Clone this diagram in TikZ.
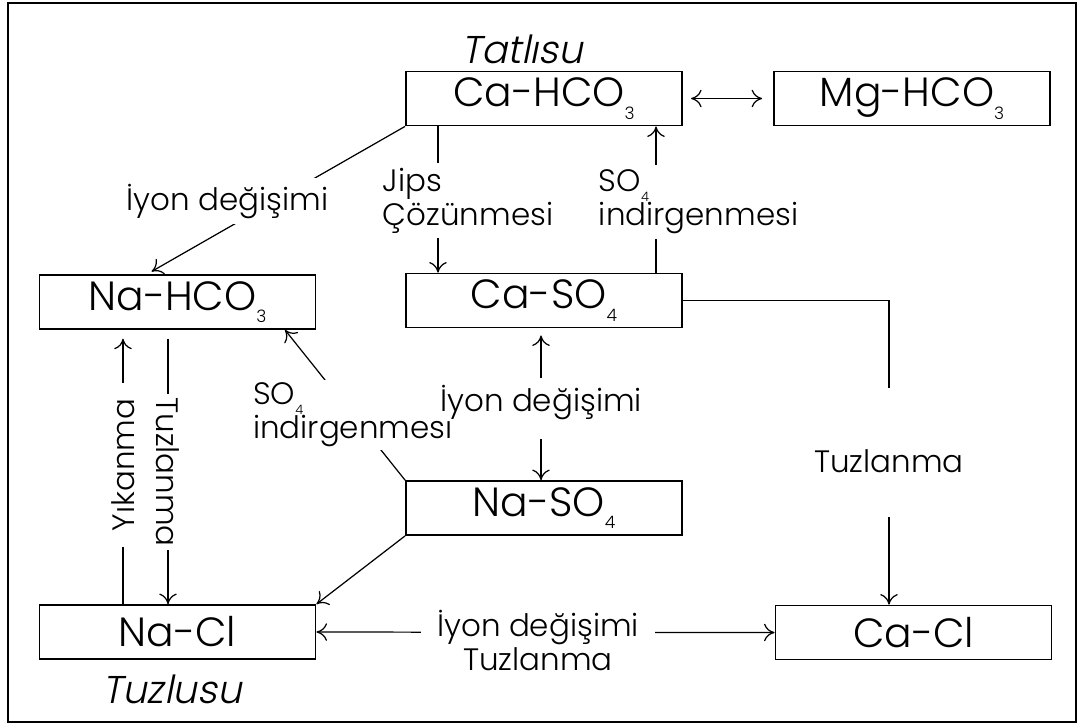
\documentclass[tikz,border=0pt]{standalone}
\usepackage{fontspec}
\setmainfont{Poppins Light}[AutoFakeSlant]
\usetikzlibrary{arrows.meta}
\newcommand{\chemsub}[1]{\raisebox{-0.3em}{\scalebox{0.42}{#1}}}
\newcommand{\etiketfont}{\fontsize{8.8}{9.4}\selectfont\lineskiplimit=-20pt\relax}

\begin{document}
\begin{tikzpicture}[x=0.01cm, y=-0.01cm, >={To[length=3pt,width=5pt]},
    kutu/.style={draw, line width=0.5pt, minimum width=2.76cm, minimum height=0.54cm, inner sep=0pt, font=\fontsize{11.6}{14}\selectfont},
    etiket/.style={fill=white, inner sep=1.5pt, font=\etiketfont},
    su/.style={font=\fontsize{11}{13}\selectfont\itshape},
    ok/.style={line width=0.35pt}]
        \useasboundingbox (0,0) rectangle (1080,726);
        \draw[line width=0.7pt] (8,3) rectangle (1076,722);

        \node[kutu] (CaHCO3) at (544,98.5) {Ca-HCO\chemsub{3}};
        \node[kutu] (MgHCO3) at (912,98.5) {Mg-HCO\chemsub{3}};
        \node[kutu] (NaHCO3) at (177.5,302) {Na-HCO\chemsub{3}};
        \node[kutu] (CaSO4) at (544,300.5) {Ca-SO\chemsub{4}};
        \node[kutu] (NaSO4) at (544,508) {Na-SO\chemsub{4}};
        \node[kutu] (NaCl) at (177.5,632) {Na-Cl};
        \node[kutu] (CaCl) at (913.5,632.5) {Ca-Cl};

        \node[su, anchor=base] (tatli) at (522,63) {Tatlısu};
        \node[su, anchor=base] (tuzlu) at (172,703) {Tuzlusu};

        \coordinate (ax) at (147,0);
        \coordinate (jx) at (438,0);
        \coordinate (sx) at (656,0);
        \coordinate (bx) at (285,0);
        \coordinate (yx) at (123,0);
        \coordinate (tx) at (168,0);

        \draw[ok,<->,shorten <=2.3pt,shorten >=3.1pt] (CaHCO3) -- (MgHCO3);
        \draw[ok,->,shorten >=1.5pt] (CaHCO3.south west) -- (NaHCO3.north -| ax);
        \node[etiket, anchor=base] (ion1) at (227.5,210) {İyon değişimi};
        \draw[ok,->] (CaHCO3.south -| jx) -- (CaSO4.north -| jx);
        \node[etiket, align=left, anchor=base west] (jips) at (377,225) {Jips\\Çözünmesi};
        \draw[ok,->] (CaSO4.north -| sx) -- (CaHCO3.south -| sx);
        \node[etiket, align=left, anchor=base west] (so4a) at (593,225) {SO\chemsub{4}\\indirgenmesi};

        \node[etiket, fill=none, minimum height=1.1cm] (tuz) at (889,461) {Tuzlanma};
        \draw[ok,shorten >=5pt] (CaSO4.east) -| (tuz.north);
        \draw[ok,->] (tuz.south) -- (CaCl.north -| tuz);

        \draw[ok,->] (NaSO4.north west) -- (NaHCO3.south -| bx);
        \node[etiket, align=left, anchor=base west, inner sep=1pt] (so4b) at (249,438) {SO\chemsub{4}\\indirgenmesi};
        \draw[ok,->] (NaSO4.south west) -- (NaCl.north east);

        \node[etiket, anchor=base, inner sep=0pt] (ion2) at (541,411) {İyon değişimi};
        \draw[ok,->,shorten <=1.7pt,shorten >=2pt] (ion2.north) -- (CaSO4.south -| ion2);
        \draw[ok,->,shorten <=5.5pt] (ion2.south) -- (NaSO4.north -| ion2);

        \draw[ok,->,shorten >=2.5pt] (NaCl.north -| yx) -- (NaHCO3.south -| yx);
        \node[etiket, rotate=90, inner xsep=4.5pt] (yik) at (123,465) {Yıkanma};
        \draw[ok,->,shorten <=2.5pt] (NaHCO3.south -| tx) -- (NaCl.north -| tx);
        \node[etiket, rotate=-90, inner xsep=1pt] (tzl) at (168,472) {Tuzlanma};

        \draw[ok,<->] (NaCl.east) -- (CaCl.west);
        \node[etiket, align=center, anchor=base, inner xsep=4.5pt] (ion3) at (538,670) {İyon değişimi\\Tuzlanma};
\end{tikzpicture}
\end{document}
